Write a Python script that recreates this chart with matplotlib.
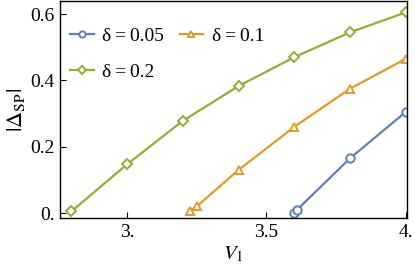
import matplotlib
matplotlib.use("Agg")
import matplotlib.pyplot as plt

# data
v_005 = [3.6, 3.61, 3.8, 4.0]
d_005 = [0.0, 0.01, 0.165, 0.305]

v_01 = [3.225, 3.25, 3.4, 3.6, 3.8, 4.0]
d_01 = [0.005, 0.02, 0.13, 0.26, 0.375, 0.465]

v_02 = [2.8, 3.0, 3.2, 3.4, 3.6, 3.8, 4.0]
d_02 = [0.005, 0.147, 0.278, 0.383, 0.47, 0.545, 0.605]

labels = ["δ\u2009=\u20090.05", "δ\u2009=\u20090.1", "δ\u2009=\u20090.2"]

xticks = [3.0, 3.5, 4.0]
xtick_labels = ["3.", "3.5", "4."]
yticks = [0.0, 0.2, 0.4, 0.6]
ytick_labels = ["0.", "0.2", "0.4", "0.6"]

plt.rcParams["font.family"] = ["Liberation Serif", "DejaVu Serif"]
plt.rcParams["mathtext.fontset"] = "stix"

fig = plt.figure(figsize=(4.15, 2.76), dpi=100)
ax = fig.add_axes([0.145, 0.21, 0.836, 0.787])

kw = dict(lw=1.6, ms=6, mfc="white", mew=1.4)
l1, = ax.plot(v_005, d_005, "-o", color="#5E81B5", **kw)
l2, = ax.plot(v_01, d_01, "-^", color="#E19C24", **kw)
l3, = ax.plot(v_02, d_02, "-D", color="#8FB032",
              lw=1.6, ms=5, mfc="white", mew=1.4)

ax.set_xlim(2.76, 4.005)
ax.set_ylim(-0.015, 0.64)
ax.set_xticks(xticks)
ax.set_xticklabels(xtick_labels)
ax.set_yticks(yticks)
ax.set_yticklabels(ytick_labels)
ax.tick_params(direction="in", length=4, width=0.8, labelsize=14, pad=4)

for s in ax.spines.values():
    s.set_linewidth(1.0)

ax.set_xlabel(r"$V_1$", fontsize=15, labelpad=3)
ax.set_ylabel(r"$|\Delta_{\mathrm{SP}}|$", fontsize=16, labelpad=2)

# matplotlib fills legend columns first, so order handles to get
# row 1: 0.05, 0.1 / row 2: 0.2
ax.legend([l1, l3, l2], [labels[0], labels[2], labels[1]],
          loc="upper left", bbox_to_anchor=(-0.01, 0.94), ncol=2,
          fontsize=14, frameon=False, markerscale=0.75, borderpad=0.2,
          handlelength=1.2, columnspacing=0.8, handletextpad=0.45,
          labelspacing=0.95)

fig.savefig("out.png", dpi=100)
